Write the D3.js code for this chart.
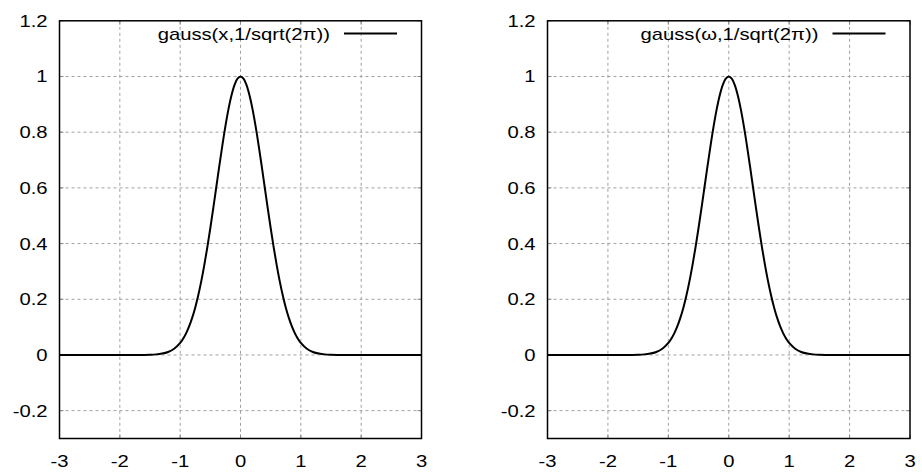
<!DOCTYPE html>
<html><head><meta charset="utf-8">
<script src="https://cdn.jsdelivr.net/npm/d3@7"></script>
<style>
html,body{margin:0;padding:0;background:#fff;}
svg text{font-family:"Liberation Sans",Arial,sans-serif;fill:#000;}
</style></head>
<body><svg id="chart" width="922" height="475"></svg>
<script>
const xValues = [-3.0,-2.0,-1.8,-1.7,-1.6,-1.5,-1.4,-1.3,-1.2,-1.1,-1.0,-0.95,-0.9,-0.85,-0.8,-0.75,-0.7,-0.65,-0.6,-0.55,-0.5,-0.45,-0.4,-0.35,-0.3,-0.25,-0.2,-0.15,-0.1,-0.05,0,
  0.05,0.1,0.15,0.2,0.25,0.3,0.35,0.4,0.45,0.5,0.55,0.6,0.65,0.7,0.75,0.8,0.85,0.9,0.95,1.0,1.1,1.2,1.3,1.4,1.5,1.6,1.7,1.8,2.0,3.0];
const yValues = [0,0,0,0.0001,0.0003,0.0009,0.0021,0.0049,0.0108,0.0223,0.0432,0.0587,0.0785,0.1033,0.1339,0.1708,0.2145,0.2652,0.3227,0.3866,0.4559,0.5293,0.6049,0.6806,0.7537,0.8217,0.8819,0.9318,0.9691,0.9922,1,
  0.9922,0.9691,0.9318,0.8819,0.8217,0.7537,0.6806,0.6049,0.5293,0.4559,0.3866,0.3227,0.2652,0.2145,0.1708,0.1339,0.1033,0.0785,0.0587,0.0432,0.0223,0.0108,0.0049,0.0021,0.0009,0.0003,0.0001,0,0,0];
const xTicks = [-3,-2,-1,0,1,2,3];
const yTicks = [-0.2,0,0.2,0.4,0.6,0.8,1,1.2];
const xTickLabels = ["-3","-2","-1","0","1","2","3"];
const yTickLabels = ["-0.2","0","0.2","0.4","0.6","0.8","1","1.2"];
const panelTitles = ["gauss(x,1/sqrt(2\u03C0))","gauss(\u03C9,1/sqrt(2\u03C0))"];

const svg = d3.select("#chart");
const panels = [
  {left:59.5, right:421.5, title:panelTitles[0]},
  {left:547.5, right:910, title:panelTitles[1]}
];
const plotTop = 20.8, plotBottom = 438.5;
const FS = 17, SX = 1.19;
const pts = xValues.map((x,i)=>({x:x,y:yValues[i]}));

function label(g, x, y, txt, anchor){
  g.append("text").attr("transform",`translate(${x},${y}) scale(${SX},1)`)
    .attr("text-anchor",anchor).attr("font-size",FS).text(txt);
}

panels.forEach(p=>{
  const x = d3.scaleLinear().domain([-3,3]).range([p.left,p.right]);
  const y = d3.scaleLinear().domain([-0.3,1.2]).range([plotBottom,plotTop]);
  const g = svg.append("g");
  // grid
  g.append("g").selectAll("line").data(xTicks.filter(t=>t>-3&&t<3)).join("line")
    .attr("x1",d=>x(d)).attr("x2",d=>x(d)).attr("y1",plotTop).attr("y2",plotBottom)
    .attr("stroke","#a0a0a0").attr("stroke-width",1).attr("stroke-dasharray","3,3");
  g.append("g").selectAll("line").data(yTicks.filter(t=>t<1.2)).join("line")
    .attr("y1",d=>y(d)).attr("y2",d=>y(d)).attr("x1",p.left).attr("x2",p.right)
    .attr("stroke","#a0a0a0").attr("stroke-width",1).attr("stroke-dasharray","3,3");
  // ticks (inside, mirrored)
  const tl = 4;
  const tk = g.append("g").attr("stroke","#888").attr("stroke-width",1);
  xTicks.forEach(t=>{
    tk.append("line").attr("x1",x(t)).attr("x2",x(t)).attr("y1",plotBottom).attr("y2",plotBottom-tl);
    tk.append("line").attr("x1",x(t)).attr("x2",x(t)).attr("y1",plotTop).attr("y2",plotTop+tl);
  });
  yTicks.forEach(t=>{
    tk.append("line").attr("y1",y(t)).attr("y2",y(t)).attr("x1",p.left).attr("x2",p.left+tl);
    tk.append("line").attr("y1",y(t)).attr("y2",y(t)).attr("x1",p.right).attr("x2",p.right-tl);
  });
  // tick labels
  const lab = g.append("g");
  xTicks.forEach((t,i)=>label(lab, x(t), plotBottom+28, xTickLabels[i], "middle"));
  yTicks.forEach((t,i)=>label(lab, p.left-12, y(t)+6, yTickLabels[i], "end"));
  // border
  g.append("rect").attr("x",p.left).attr("y",plotTop).attr("width",p.right-p.left).attr("height",plotBottom-plotTop)
    .attr("fill","none").attr("stroke","#000").attr("stroke-width",1.5);
  // curve
  const line = d3.line().x(d=>x(d.x)).y(d=>y(d.y)).curve(d3.curveCatmullRom);
  g.append("path").datum(pts).attr("d",line).attr("fill","none").attr("stroke","#000").attr("stroke-width",2);
  // legend
  const lx = p.right - 24.5;
  g.append("line").attr("x1",lx-53).attr("x2",lx).attr("y1",33.5).attr("y2",33.5)
    .attr("stroke","#000").attr("stroke-width",2);
  label(g, lx-67, 40, p.title, "end");
});
</script></body></html>
